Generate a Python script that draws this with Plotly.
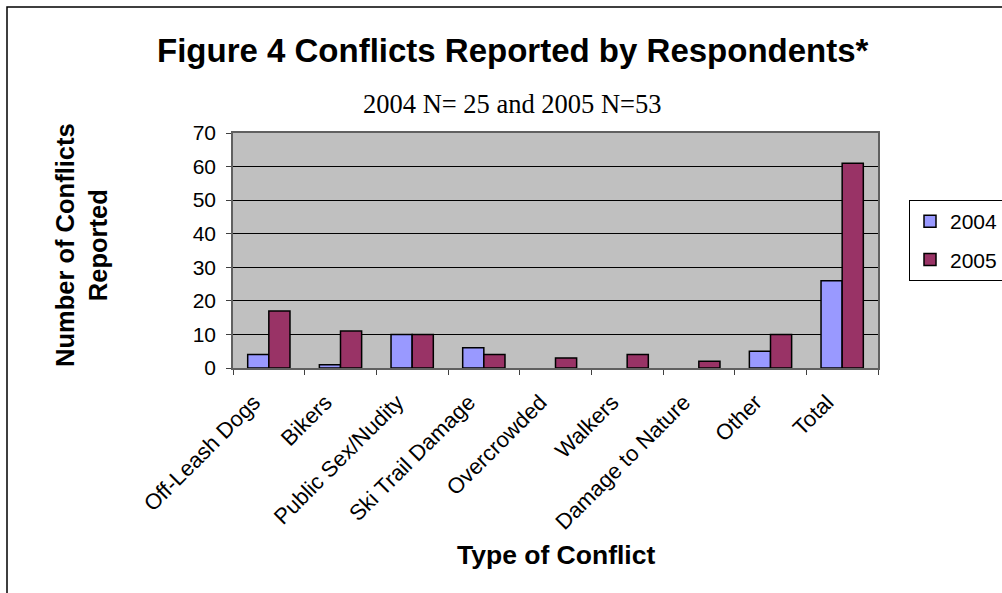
import plotly.graph_objects as go

categories = ["Off-Leash Dogs", "Bikers", "Public Sex/Nudity", "Ski Trail Damage",
              "Overcrowded", "Walkers", "Damage to Nature", "Other", "Total"]
values_2004 = [4, 1, 10, 6, 0, 0, 0, 5, 26]
values_2005 = [17, 11, 10, 4, 3, 4, 2, 10, 61]
series_names = ["2004", "2005"]
colors = ["#9999FF", "#993366"]

W, H = 1002, 593
L, R, T, B = 233, 878, 133, 368
PW, PH = R - L, B - T

def px_x(x):
    return (x - L) / PW

def px_y(y):
    return (B - y) / PH

SANS = "Liberation Sans, Arial, sans-serif"
SERIF = "Liberation Serif, Times New Roman, serif"

fig = go.Figure()
for name, vals, col in zip(series_names, [values_2004, values_2005], colors):
    fig.add_trace(go.Bar(
        x=categories, y=vals, name=name, legendgroup=name,
        marker=dict(color=col,
                    line=dict(color="black",
                              width=[1.5 if v > 0 else 0 for v in vals])),
    ))

fig.update_layout(
    width=W, height=H,
    margin=dict(l=L, r=W - R, t=T, b=H - B, pad=0, autoexpand=False),
    paper_bgcolor="white",
    plot_bgcolor="#C0C0C0",
    barmode="group",
    bargap=0.41,
    bargroupgap=0,
    font=dict(family=SANS, color="black", size=20),
    showlegend=True,
    legend=dict(
        x=px_x(909), y=px_y(200), xanchor="left", yanchor="top",
        bordercolor="black", borderwidth=1, bgcolor="white",
        font=dict(family=SANS, size=21),
        tracegroupgap=8,
    ),
    xaxis=dict(
        tickangle=-45, tickson="boundaries", ticks="outside", ticklen=5,
        tickcolor="#404040", showline=True, linecolor="#606060", linewidth=1.5,
        mirror=True, showgrid=False, tickfont=dict(family=SANS, size=22),
        ticklabelshift=-15, ticklabelstandoff=11,
        automargin=False,
    ),
    yaxis=dict(
        range=[0, 70], dtick=10, ticks="outside", ticklen=5, tickcolor="#404040",
        showline=True, linecolor="#606060", linewidth=1.5, mirror=True,
        showgrid=True, gridcolor="black", gridwidth=1, zeroline=False,
        tickfont=dict(family=SANS, size=21), ticklabelstandoff=6,
        automargin=False,
    ),
    annotations=[
        dict(text="<b>Figure 4 Conflicts Reported by Respondents*</b>",
             x=px_x(513), y=px_y(50), xref="paper", yref="paper",
             xanchor="center", yanchor="middle", showarrow=False,
             font=dict(family=SANS, size=33)),
        dict(text="2004 N= 25 and 2005 N=53",
             x=px_x(512), y=px_y(104), xref="paper", yref="paper",
             xanchor="center", yanchor="middle", showarrow=False,
             font=dict(family=SERIF, size=26.5)),
        dict(text="<b>Number of Conflicts<br>Reported</b>",
             x=px_x(81), y=px_y(245), xref="paper", yref="paper",
             xanchor="center", yanchor="middle", showarrow=False, textangle=-90,
             font=dict(family=SANS, size=25.5)),
        dict(text="<b>Type of Conflict</b>",
             x=px_x(556), y=px_y(555), xref="paper", yref="paper",
             xanchor="center", yanchor="middle", showarrow=False,
             font=dict(family=SANS, size=26.5)),
    ],
    shapes=[
        dict(type="rect", xref="paper", yref="paper",
             x0=px_x(7), x1=px_x(1100), y0=px_y(700), y1=px_y(7),
             line=dict(color="black", width=1.5), fillcolor="rgba(0,0,0,0)",
             layer="below"),
    ],
)

fig.write_html("out.html")
